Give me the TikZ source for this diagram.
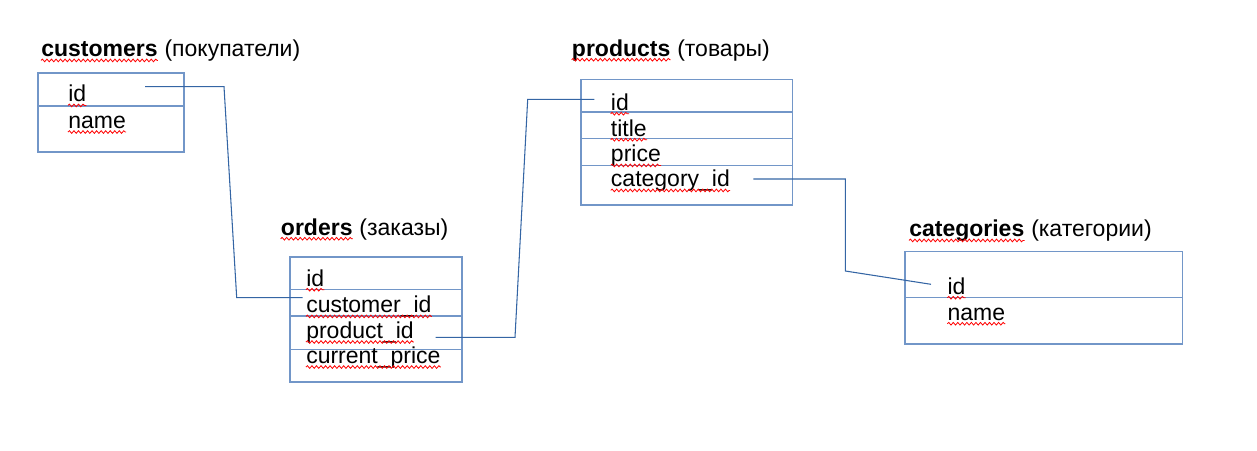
\documentclass[tikz,border=0pt]{standalone}
\usepackage{fontspec}
\setmainfont{Liberation Sans}
\usetikzlibrary{positioning, decorations.pathmorphing}
\definecolor{boxblue}{RGB}{114,150,200}
\definecolor{linkblue}{RGB}{52,101,164}
\tikzset{every node/.append style = {inner sep=0pt, font=\fontsize{17.25}{20}\selectfont}}
\tikzset{field/.style = {anchor=base west}}
\tikzset{tbl/.style = {draw=boxblue, line width=1pt}}
\tikzset{link/.style = {draw=linkblue, line width=0.8pt}}
\tikzset{spell/.style = {draw=red, line width=0.6pt, decorate, decoration={snake, amplitude=1pt, segment length=3.4pt}}}
\newcommand{\wavy}[1]{\draw[spell] ([yshift=-2.8pt]#1.base west) -- ([yshift=-2.8pt]#1.base east);}

\begin{document}
\begin{tikzpicture}[x=0.75pt, y=-0.75pt]
\useasboundingbox (0,0) rectangle (1257,450);
% titles
\node [field] (tcust) at (41,56.7) {\textbf{customers}};
\node [base right=4.8pt of tcust] (tcustru) {(покупатели)};
\node [field] (tord) at (280.7,235) {\textbf{orders}};
\node [base right=4.8pt of tord] (tordru) {(заказы)};
\node [field] (tprod) at (571.7,56) {\textbf{products}};
\node [base right=4.8pt of tprod] (tprodru) {(товары)};
\node [field] (tcat) at (909,236.7) {\textbf{categories}};
\node [base right=4.8pt of tcat] (tcatru) {(категории)};
% tables
\draw [tbl] (38,73) rectangle (184,152);
\draw [tbl] (38,106) -- (184,106);
\draw [tbl] (290,257) rectangle (462,382);
\foreach \y in {289.3, 316, 349.3} \draw [tbl] (290,\y) -- (462,\y);
\draw [tbl] (581,79.3) rectangle (792.3,205);
\foreach \y in {112, 138.7, 165.3} \draw [tbl] (581,\y) -- (792.3,\y);
\draw [tbl] (905,251.7) rectangle (1182.7,344);
\draw [tbl] (905,297.7) -- (1182.7,297.7);
% fields
\node [field] (cu-id) at (68,101.7) {id};
\node [field] (cu-name) at (68,128.3) {name};
\node [field] (or-id) at (306,286) {id};
\node [field] (or-cust) at (306,312.7) {customer\_id};
\node [field] (or-prod) at (306,338.3) {product\_id};
\node [field] (or-price) at (306,363.3) {current\_price};
\node [field] (pr-id) at (610.7,110) {id};
\node [field] (pr-title) at (610.7,136) {title};
\node [field] (pr-price) at (610.7,161.7) {price};
\node [field] (pr-cat) at (610.7,186.7) {category\_id};
\node [field] (ca-id) at (947.3,294) {id};
\node [field] (ca-name) at (947.3,320) {name};
% spell check marks
\foreach \n in {tcust, tord, tprod, tcat, cu-id, cu-name, or-id, or-cust, or-prod, or-price, pr-id, pr-title, pr-price, pr-cat, ca-id, ca-name} {\wavy{\n}}
% links
\coordinate (cu-id-r) at (145,86.7);
\coordinate (or-cust-l) at (302.7,297.7);
\coordinate (or-prod-r) at (435.7,337.3);
\coordinate (pr-id-l) at (594.3,99.3);
\coordinate (pr-cat-r) at (753.3,179);
\coordinate (ca-id-l) at (931,284.3);
\draw [link] (cu-id-r) -- (224,86.7) -- (236.7,297.7) -- (or-cust-l);
\draw [link] (or-prod-r) -- (515,337.3) -- (527.7,99.3) -- (pr-id-l);
\draw [link] (pr-cat-r) -- (845.3,179) -- (845.3,271) -- (ca-id-l);
\end{tikzpicture}
\end{document}
